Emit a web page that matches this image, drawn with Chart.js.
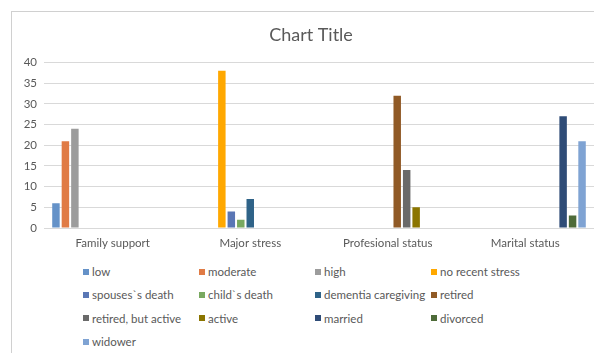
<!DOCTYPE html>
<html>
<head>
<meta charset="utf-8">
<script src="https://cdn.jsdelivr.net/npm/chart.js@4"></script>
<style>
    html, body {
        margin: 0;
        padding: 0;
        width: 594px;
        height: 353px;
        overflow: hidden;
        background: #fff;
        font-family: Lato, "Open Sans", sans-serif;
    }
    #frame {
        position: absolute;
        left: 11px;
        top: 11px;
        width: 700px;
        height: 400px;
        border: 1px solid #d0d0d0;
    }
    #chartBox {
        position: absolute;
        left: 13px;
        top: 13px;
        width: 596px;
        height: 240px;
    }
    #legend {
        position: absolute;
        left: 83px;
        top: 260px;
        display: grid;
        grid-template-columns: repeat(4, 116px);
        grid-auto-rows: 23.3px;
    }
    .legend-item {
        display: flex;
        align-items: center;
        font-size: 11.5px;
        color: #595959;
        white-space: nowrap;
    }
    .legend-item span.box {
        display: inline-block;
        width: 6px;
        height: 6px;
        margin-right: 3px;
    }
</style>
</head>
<body>
<div id="frame"></div>
<div id="chartBox"><canvas id="stressChart"></canvas></div>
<div id="legend"></div>

<script>
// Categories on the x axis
const categories = ['Family support', 'Major stress', 'Profesional status', 'Marital status'];

// One series per answer, each only has a value in its own category
const seriesNames = [
    'low', 'moderate', 'high', 'no recent stress',
    'spouses`s death', 'child`s death', 'dementia caregiving', 'retired',
    'retired, but active', 'active', 'married', 'divorced',
    'widower'
];

const seriesValues = [
    [6, null, null, null],     // low
    [21, null, null, null],    // moderate
    [24, null, null, null],    // high
    [null, 38, null, null],    // no recent stress
    [null, 4, null, null],     // spouses`s death
    [null, 2, null, null],     // child`s death
    [null, 7, null, null],     // dementia caregiving
    [null, null, 32, null],    // retired
    [null, null, 14, null],    // retired, but active
    [null, null, 5, null],     // active
    [null, null, null, 27],    // married
    [null, null, null, 3],     // divorced
    [null, null, null, 21]     // widower
];

const seriesColors = [
    '#6592C8', '#E07B45', '#9C9C9C', '#FFA800',
    '#5A77B5', '#79A960', '#2F6388', '#905A26',
    '#6A6A6A', '#8B7500', '#2F4C77', '#4E6B39',
    '#7FA3D3'
];

const yTicks = [0, 5, 10, 15, 20, 25, 30, 35, 40];

const textColor = '#595959';
const gridColor = '#d9d9d9';

const datasets = seriesNames.map((name, i) => ({
    label: name,
    data: seriesValues[i],
    backgroundColor: seriesColors[i],
    borderWidth: 0,
    categoryPercentage: 0.895,
    barPercentage: 0.79
}));

// centre the title on the whole frame, not on the padded area
const fullWidthTitle = {
    id: 'fullWidthTitle',
    afterLayout(chart) {
        if (chart.titleBlock) {
            chart.titleBlock.left = 0;
            chart.titleBlock.right = chart.width;
        }
    }
};

const chart = new Chart(document.getElementById('stressChart'), {
    type: 'bar',
    data: {
        labels: categories,
        datasets: datasets
    },
    plugins: [fullWidthTitle],
    options: {
        responsive: true,
        maintainAspectRatio: false,
        animation: false,
        layout: {
            padding: { left: 0, right: 15, top: 0, bottom: 0 }
        },
        plugins: {
            legend: { display: false },
            tooltip: { enabled: false },
            title: {
                display: true,
                text: 'Chart Title',
                color: textColor,
                font: { family: 'Lato', size: 18, weight: 'normal' },
                padding: { top: 11, bottom: 17 }
            }
        },
        scales: {
            x: {
                grid: { display: false, drawTicks: false },
                border: { display: true, color: gridColor },
                ticks: {
                    color: textColor,
                    font: { family: 'Lato', size: 11.5 },
                    padding: 8,
                    maxRotation: 0
                },
                afterFit: function(scale) {
                    scale.height = 25;
                }
            },
            y: {
                min: 0,
                max: 40,
                afterBuildTicks: function(scale) {
                    scale.ticks = yTicks.map(v => ({ value: v }));
                },
                grid: { color: gridColor, drawTicks: false },
                border: { display: false },
                ticks: {
                    color: textColor,
                    font: { family: 'Lato', size: 11.5 },
                    padding: 7
                },
                afterFit: function(scale) {
                    scale.width = 31;
                }
            }
        }
    }
});

// Build the legend in 4 columns like the original
const legendEl = document.getElementById('legend');
chart.data.datasets.forEach(ds => {
    const item = document.createElement('div');
    item.className = 'legend-item';
    const box = document.createElement('span');
    box.className = 'box';
    box.style.background = ds.backgroundColor;
    item.appendChild(box);
    item.appendChild(document.createTextNode(ds.label));
    legendEl.appendChild(item);
});
</script>
</body>
</html>
